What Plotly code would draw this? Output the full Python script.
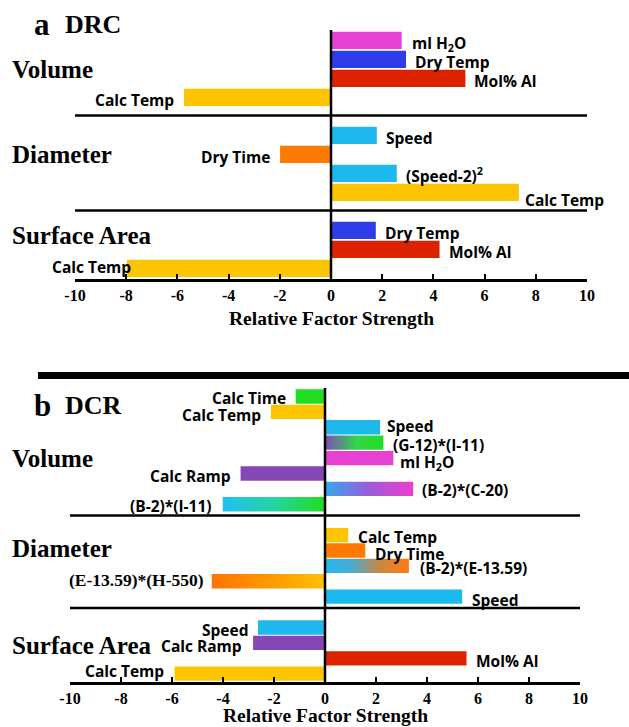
import plotly.graph_objects as go

# ---------------- data: panel a (DRC) ----------------
drc_group_names = ["Volume", "Diameter", "Surface Area"]
drc_volume_factors = ["ml H<sub>2</sub>O", "Dry Temp", "Mol% Al", "Calc Temp"]
drc_volume_values = [2.76, 2.93, 5.25, -5.74]
drc_diameter_factors = ["Speed", "Dry Time", "(Speed-2)<sup>2</sup>", "Calc Temp"]
drc_diameter_values = [1.79, -1.99, 2.57, 7.34]
drc_surface_factors = ["Dry Temp", "Mol% Al", "Calc Temp"]
drc_surface_values = [1.75, 4.24, -7.97]

# ---------------- data: panel b (DCR) ----------------
dcr_group_names = ["Volume", "Diameter", "Surface Area"]
dcr_volume_factors = ["Calc Time", "Calc Temp", "Speed", "(G-12)*(I-11)",
                      "ml H<sub>2</sub>O", "Calc Ramp", "(B-2)*(C-20)", "(B-2)*(I-11)"]
dcr_volume_values = [-1.15, -2.12, 2.16, 2.29, 2.68, -3.31, 3.46, -4.01]
dcr_diameter_factors = ["Calc Temp", "Dry Time", "(B-2)*(E-13.59)",
                        "(E-13.59)*(H-550)", "Speed"]
dcr_diameter_values = [0.91, 1.58, 3.29, -4.44, 5.38]
dcr_surface_factors = ["Speed", "Calc Ramp", "Mol% Al", "Calc Temp"]
dcr_surface_values = [-2.63, -2.82, 5.55, -5.90]

x_tick_values = [-10, -8, -6, -4, -2, 0, 2, 4, 6, 8, 10]
x_tick_labels = ["-10", "-8", "-6", "-4", "-2", "0", "2", "4", "6", "8", "10"]
x_title = "Relative Factor Strength"

# ---------------- styling ----------------
W, H = 629, 727
YELLOW = "#FDC400"
ORANGE = "#FF7A00"
RED = "#DD2200"
BLUE = "#2E3CEA"
MAGENTA = "#E840D2"
CYAN = "#1DB8EE"
GREEN = "#22DC22"
PURPLE = "#8447B5"

GRAD_PURPLE_GREEN = [[0, "#7F4CB8"], [0.55, "#30D84A"], [1, "#22DD22"]]
GRAD_CYAN_MAGENTA = [[0, "#32A8F0"], [0.5, "#9A5CD8"], [1, "#EE3ECE"]]
GRAD_CYAN_GREEN = [[0, "#20C0F2"], [0.5, "#26D3A0"], [1, "#22DD22"]]
GRAD_CYAN_ORANGE = [[0, "#28B6EA"], [0.3, "#44ACD8"], [0.65, "#C88A40"], [1, "#FF7A10"]]
GRAD_ORANGE_YELLOW = [[0, "#FF7400"], [0.6, "#FFA000"], [1, "#FFC000"]]

drc_colors = [[MAGENTA, BLUE, RED, YELLOW],
              [CYAN, ORANGE, CYAN, YELLOW],
              [BLUE, RED, YELLOW]]
dcr_colors = [[GREEN, YELLOW, CYAN, GRAD_PURPLE_GREEN, MAGENTA, PURPLE,
               GRAD_CYAN_MAGENTA, GRAD_CYAN_GREEN],
              [YELLOW, ORANGE, GRAD_CYAN_ORANGE, GRAD_ORANGE_YELLOW, CYAN],
              [CYAN, PURPLE, RED, YELLOW]]

# label nudges (px): (horizontal gap from bar end, downward shift)
drc_label_nudge = [[(8, 3), (7, 3), (7, 3), (8, 3)],
                   [(7, 3), (8, 3), (7, 2), (4, 8)],
                   [(7, 3), (7, 3), (-6, -1)]]
dcr_label_nudge = [[(8, 2), (8, 3), (5, -1), (8, 2), (5, 4), (8, 3), (7, 1), (9, 2)],
                   [(8, 2), (8, 4), (9, 2), (6, -1), (8, 3)],
                   [(8, 3), (9, 3), (7, 3), (9, -3)]]
serif_labels = {"(E-13.59)*(H-550)"}

LABEL_FONT = dict(family="Open Sans", size=15.5, color="black", weight="bold")
SERIF_LABEL_FONT = dict(family="Liberation Serif", size=17.5, color="black", weight="bold")
GROUP_FONT = dict(family="Liberation Serif", size=25, color="black", weight="bold")
TICK_FONT = dict(family="Liberation Serif", size=16, color="black", weight="bold")
TITLE_FONT = dict(family="Liberation Serif", size=19.5, color="black", weight="bold")


def px_x(p):
    return p / W


def px_y(p):
    return 1 - p / H


def slot_layout(sizes, offset=0.55):
    """Bar centres in slot units, one empty slot between groups."""
    centres, gaps, k = [], [], 0
    for gi, n in enumerate(sizes):
        centres.append([k + i + offset for i in range(n)])
        k += n
        if gi < len(sizes) - 1:
            gaps.append(k)
            k += 1
    return centres, gaps, k


panels = [
    dict(
        factors=[drc_volume_factors, drc_diameter_factors, drc_surface_factors],
        values=[drc_volume_values, drc_diameter_values, drc_surface_values],
        colors=drc_colors, nudges=drc_label_nudge, groups=drc_group_names,
        letter="a", name="DRC",
        xpx=(75, 587), ypx=(30, 278.5), extra=0.08, sep_frac=0.5,
        sep_span=[(-10.23, 10.23), (-10.27, 10.27)], bar_w=0.91,
        group_y=[69, 155, 235], title_y=24, xtitle_y=318,
    ),
    dict(
        factors=[dcr_volume_factors, dcr_diameter_factors, dcr_surface_factors],
        values=[dcr_volume_values, dcr_diameter_values, dcr_surface_values],
        colors=dcr_colors, nudges=dcr_label_nudge, groups=dcr_group_names,
        letter="b", name="DCR",
        xpx=(70, 580), ypx=(388, 681.7), extra=0.07, sep_frac=0.28,
        sep_span=[(-10.27, 10.27), (-10.45, 10.0)], bar_w=0.93,
        group_y=[458, 548, 645], title_y=405, xtitle_y=715.5,
    ),
]

fig = go.Figure()
shapes, annotations = [], []

for pi, P in enumerate(panels):
    sfx = "" if pi == 0 else str(pi + 1)
    xref, yref = "x" + sfx, "y" + sfx
    centres, gaps, total = slot_layout([len(f) for f in P["factors"]])
    y_bottom = total + P["extra"]

    solid_x, solid_y, solid_c = [], [], []
    for g, facs in enumerate(P["factors"]):
        for i, fac in enumerate(facs):
            v = P["values"][g][i]
            yc = centres[g][i]
            col = P["colors"][g][i]
            if isinstance(col, str):
                solid_x.append(v)
                solid_y.append(yc)
                solid_c.append(col)
            else:
                hw = P["bar_w"] / 2
                fig.add_trace(go.Scatter(
                    x=[0, v, v, 0, 0], y=[yc - hw, yc - hw, yc + hw, yc + hw, yc - hw],
                    xaxis=xref, yaxis=yref, mode="lines", line=dict(width=0),
                    fill="toself",
                    fillgradient=dict(type="horizontal", colorscale=col,
                                      start=min(0, v), stop=max(0, v)),
                    hoverinfo="skip", showlegend=False))
            gap, down = P["nudges"][g][i]
            font = SERIF_LABEL_FONT if fac in serif_labels else LABEL_FONT
            annotations.append(dict(
                x=v, y=yc, xref=xref, yref=yref, text=fac, showarrow=False,
                xanchor="left" if v >= 0 else "right", yanchor="middle",
                xshift=gap if v >= 0 else -gap, yshift=-down, font=font))

    fig.add_trace(go.Bar(
        x=solid_x, y=solid_y, orientation="h", width=P["bar_w"],
        marker=dict(color=solid_c, line=dict(width=0)),
        xaxis=xref, yaxis=yref, showlegend=False, hoverinfo="skip"))

    # group separators
    for k, gslot in enumerate(gaps):
        x0, x1 = P["sep_span"][k]
        ys = gslot + P["sep_frac"]
        shapes.append(dict(type="line", xref=xref, yref=yref, x0=x0, x1=x1,
                           y0=ys, y1=ys, line=dict(color="black", width=2.5),
                           layer="above"))
    # zero line
    shapes.append(dict(type="line", xref=xref, yref=yref + " domain", x0=0, x1=0,
                       y0=0, y1=1, line=dict(color="black", width=2.5), layer="above"))

    xdom = [px_x(P["xpx"][0]), px_x(P["xpx"][1])]
    ydom = [px_y(P["ypx"][1]), px_y(P["ypx"][0])]
    fig.update_layout(**{
        "xaxis" + sfx: dict(
            domain=xdom, range=[-10, 10], anchor=yref, tickmode="array",
            tickvals=x_tick_values, ticktext=x_tick_labels, ticks="inside",
            ticklen=5, tickwidth=2, tickcolor="black", showline=True,
            linewidth=3, linecolor="black", showgrid=False, zeroline=False,
            tickfont=TICK_FONT, fixedrange=True, automargin=False),
        "yaxis" + sfx: dict(
            domain=ydom, range=[y_bottom, 0], anchor=xref, visible=False,
            showgrid=False, zeroline=False, fixedrange=True, automargin=False),
    })

    # group names
    for g, gname in enumerate(P["groups"]):
        annotations.append(dict(x=px_x(10), y=px_y(P["group_y"][g]), xref="paper",
                                yref="paper", text=gname, showarrow=False,
                                xanchor="left", yanchor="middle", font=GROUP_FONT))
    # panel letter + name
    annotations.append(dict(x=px_x(32), y=px_y(P["title_y"]), xref="paper", yref="paper",
                            text=P["letter"], showarrow=False, xanchor="left",
                            yanchor="middle",
                            font=dict(family="Liberation Serif", size=31,
                                      color="black", weight="bold")))
    annotations.append(dict(x=px_x(63), y=px_y(P["title_y"]), xref="paper", yref="paper",
                            text=P["name"], showarrow=False, xanchor="left",
                            yanchor="middle",
                            font=dict(family="Liberation Serif", size=26,
                                      color="black", weight="bold")))
    # axis title
    xc = (P["xpx"][0] + P["xpx"][1]) / 2
    annotations.append(dict(x=px_x(xc), y=px_y(P["xtitle_y"]), xref="paper",
                            yref="paper", text=x_title, showarrow=False,
                            xanchor="center", yanchor="middle", font=TITLE_FONT))

# heavy rule between the two panels
shapes.append(dict(type="line", xref="paper", yref="paper", x0=px_x(38), x1=1,
                   y0=px_y(375.5), y1=px_y(375.5), line=dict(color="black", width=7)))

fig.update_layout(
    width=W, height=H, margin=dict(l=0, r=0, t=0, b=0, pad=0, autoexpand=False),
    paper_bgcolor="white", plot_bgcolor="white",
    barmode="overlay", showlegend=False,
    shapes=shapes, annotations=annotations,
)

fig.write_html("out.html")
